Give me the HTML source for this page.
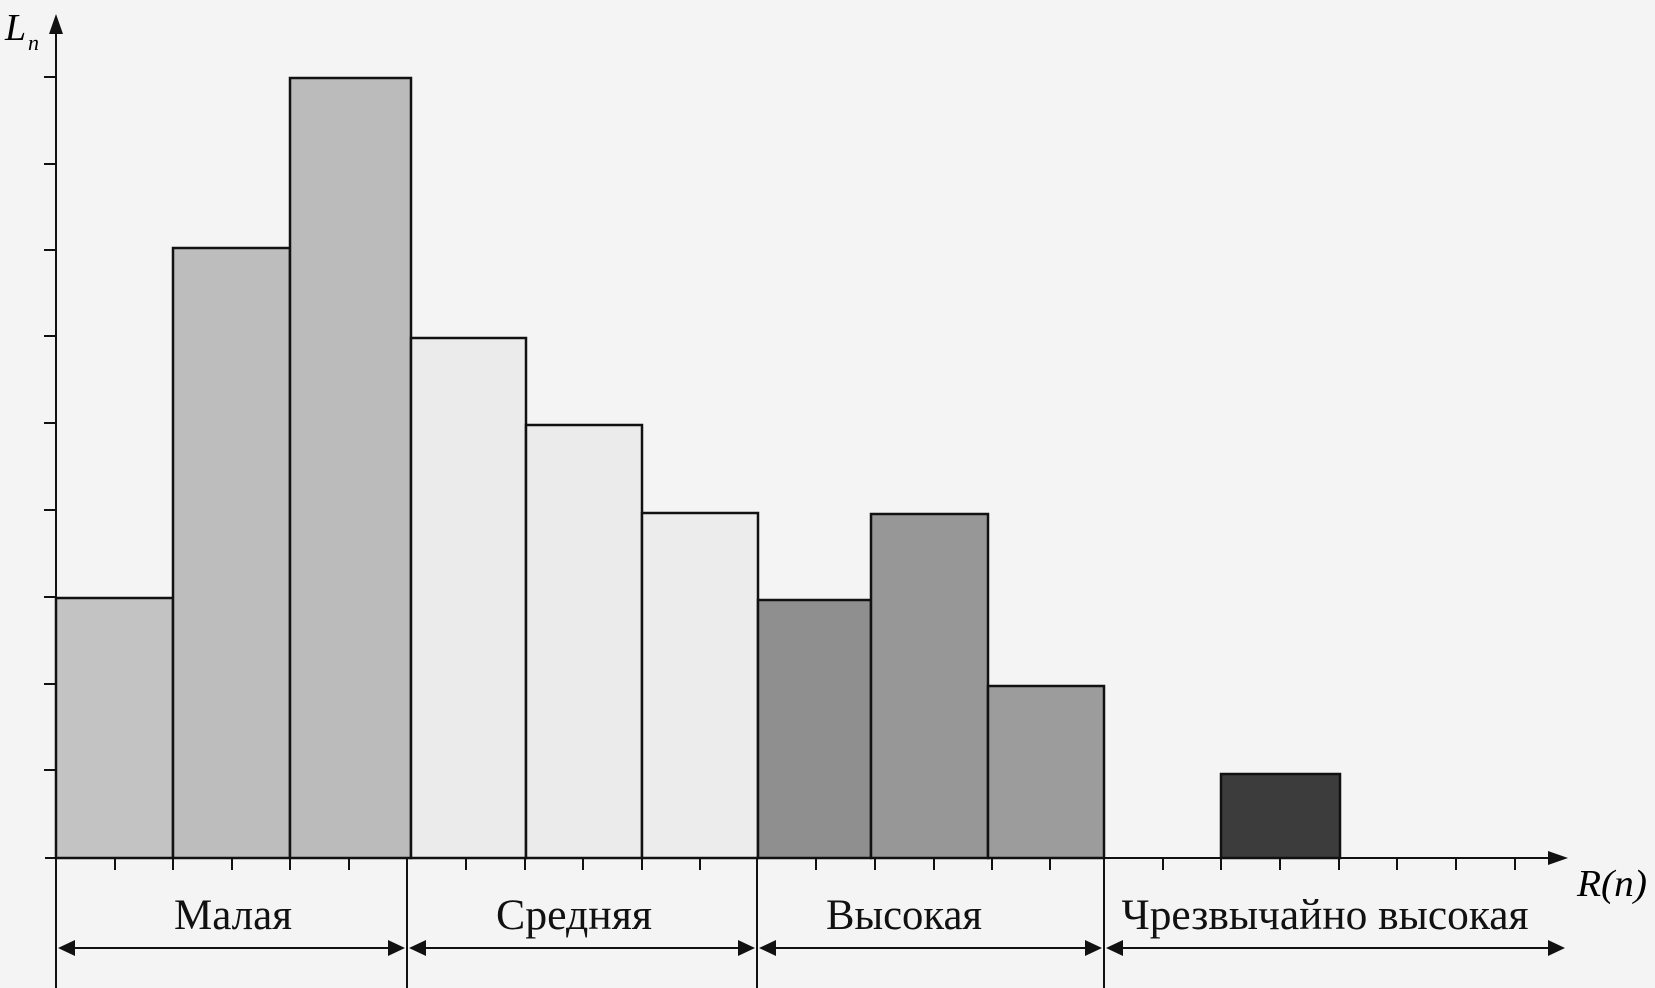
<!DOCTYPE html>
<html><head><meta charset="utf-8"><style>body{margin:0;background:#f4f4f4}svg{display:block}</style></head>
<body>
<svg width="1655" height="988" viewBox="0 0 1655 988" xmlns="http://www.w3.org/2000/svg" font-family="Liberation Serif, serif">
<rect width="1655" height="988" fill="#f4f4f4"/>
<g stroke="#111" stroke-width="2.5">
<rect x="56" y="598" width="117" height="260" fill="#c3c3c3"/>
<rect x="173" y="248" width="117" height="610" fill="#bdbdbd"/>
<rect x="290" y="78" width="121" height="780" fill="#bbbbbb"/>
<rect x="411" y="338" width="115" height="520" fill="#ebebeb"/>
<rect x="526" y="425" width="116" height="433" fill="#ebebeb"/>
<rect x="642" y="513" width="116" height="345" fill="#ececec"/>
<rect x="758" y="600" width="113" height="258" fill="#8f8f8f"/>
<rect x="871" y="514" width="117" height="344" fill="#979797"/>
<rect x="988" y="686" width="116" height="172" fill="#9c9c9c"/>
<rect x="1221" y="774" width="119" height="84" fill="#3c3c3c"/>
</g>
<g stroke="#111" stroke-width="2">
<line x1="56" y1="988" x2="56" y2="25"/>
<line x1="45" y1="858" x2="1555" y2="858"/>
<line x1="407" y1="858" x2="407" y2="988"/>
<line x1="757" y1="858" x2="757" y2="988"/>
<line x1="1104" y1="858" x2="1104" y2="988"/>
<path d="M44 77h12M44 164h12M44 250h12M44 336h12M44 423h12M44 510h12M44 597h12M44 684h12M44 770h12"/>
<path d="M115 858v12M173 858v12M232 858v12M290 858v12M349 858v12M466 858v12M525 858v12M583 858v12M642 858v12M700 858v12M816 858v12M875 858v12M934 858v12M992 858v12M1050 858v12M1163 858v12M1221 858v12M1280 858v12M1339 858v12M1397 858v12M1456 858v12M1515 858v12"/>
<line x1="62" y1="948" x2="401" y2="948"/><line x1="413" y1="948" x2="751" y2="948"/><line x1="763" y1="948" x2="1098" y2="948"/><line x1="1110" y1="948" x2="1560" y2="948"/>
</g>
<g fill="#111">
<path d="M56 14l-7 20h14z"/>
<path d="M1568 858l-20-7v14z"/>
<path d="M58 948l17-8v16zM405 948l-17-8v16zM409 948l17-8v16zM755 948l-17-8v16zM759 948l17-8v16zM1102 948l-17-8v16zM1106 948l17-8v16zM1565 948l-17-8v16z"/>
</g>
<g font-size="43" text-anchor="middle" fill="#111" lengthAdjust="spacingAndGlyphs">
<text x="233" y="929" textLength="118" lengthAdjust="spacingAndGlyphs">Малая</text>
<text x="574" y="929" textLength="156" lengthAdjust="spacingAndGlyphs">Средняя</text>
<text x="904" y="929" textLength="156" lengthAdjust="spacingAndGlyphs">Высокая</text>
<text x="1325" y="929" textLength="407" lengthAdjust="spacingAndGlyphs">Чрезвычайно высокая</text>
</g>
<text x="5" y="40" font-size="38" font-style="italic">L</text><text x="28" y="50" font-size="22" font-style="italic">n</text>
<text x="1577" y="896" font-size="38" font-style="italic" textLength="70" lengthAdjust="spacingAndGlyphs">R(n)</text>
</svg>
</body></html>
